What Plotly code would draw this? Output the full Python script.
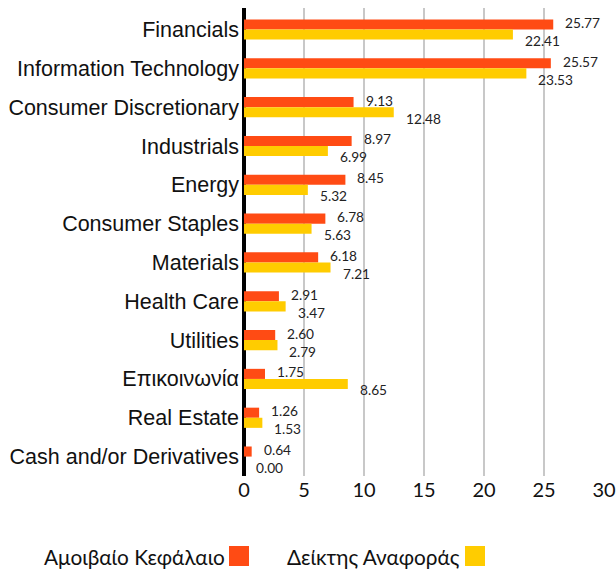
import plotly.graph_objects as go

categories = ["Financials", "Information Technology", "Consumer Discretionary", "Industrials",
              "Energy", "Consumer Staples", "Materials", "Health Care", "Utilities",
              "Επικοινωνία", "Real Estate", "Cash and/or Derivatives"]
fund = [25.77, 25.57, 9.13, 8.97, 8.45, 6.78, 6.18, 2.91, 2.60, 1.75, 1.26, 0.64]
bench = [22.41, 23.53, 12.48, 6.99, 5.32, 5.63, 7.21, 3.47, 2.79, 8.65, 1.53, 0.00]
series_names = ["Αμοιβαίο Κεφάλαιο", "Δείκτης Αναφοράς"]
x_ticks = [0, 5, 10, 15, 20, 25, 30]

RED = "#FF4B14"
YEL = "#FFCC00"

L, T, PW, PH = 244, 8, 360, 468

def px(x):
    return (x - L) / PW

def py(y):
    return (T + PH - y) / PH

fig = go.Figure()
fig.add_trace(go.Bar(y=categories, x=fund, orientation="h", name=series_names[0],
                     marker=dict(color=RED, line=dict(width=0))))
fig.add_trace(go.Bar(y=categories, x=bench, orientation="h", name=series_names[1],
                     marker=dict(color=YEL, line=dict(width=0))))

annos = []
for c, v in zip(categories, fund):
    annos.append(dict(x=v, y=c, xref="x", yref="y", text=f"{v:.2f}", showarrow=False,
                      xanchor="left", yanchor="middle", xshift=10, yshift=7,
                      font=dict(family="Lato, sans-serif", size=13.7, color="#222")))
for c, v in zip(categories, bench):
    annos.append(dict(x=v, y=c, xref="x", yref="y", text=f"{v:.2f}", showarrow=False,
                      xanchor="left", yanchor="middle", xshift=10, yshift=-11,
                      font=dict(family="Lato, sans-serif", size=13.7, color="#222")))

# custom legend: text then square
annos.append(dict(x=px(42), y=py(556), xref="paper", yref="paper", text=series_names[0],
                  showarrow=False, xanchor="left", yanchor="middle",
                  font=dict(family="Lato, sans-serif", size=20.8, color="#111")))
annos.append(dict(x=px(285), y=py(556), xref="paper", yref="paper", text=series_names[1],
                  showarrow=False, xanchor="left", yanchor="middle",
                  font=dict(family="Lato, sans-serif", size=20.8, color="#111")))

shapes = [
    dict(type="rect", xref="paper", yref="paper", x0=px(229), x1=px(249),
         y0=py(566), y1=py(546), fillcolor=RED, line=dict(width=0)),
    dict(type="rect", xref="paper", yref="paper", x0=px(465), x1=px(485),
         y0=py(566), y1=py(546), fillcolor=YEL, line=dict(width=0)),
]

fig.update_layout(
    width=616, height=572,
    margin=dict(l=L, r=616 - L - PW, t=T, b=572 - T - PH, autoexpand=False),
    plot_bgcolor="white", paper_bgcolor="white",
    barmode="group", bargap=0.48, bargroupgap=0,
    showlegend=False,
    annotations=annos, shapes=shapes,
    xaxis=dict(range=[0, 30], tickvals=x_ticks, ticktext=[str(t) for t in x_ticks],
               showgrid=True, gridcolor="#c8c8c8", gridwidth=2,
               zeroline=True, zerolinecolor="black", zerolinewidth=4,
               tickfont=dict(family="Lato, sans-serif", size=20, color="#111"),
               ticks="", showline=False, automargin=False),
    yaxis=dict(autorange="reversed", showgrid=False, ticks="", showline=False,
               tickfont=dict(family="Liberation Sans, Arial, sans-serif", size=21.5, color="#111"),
               ticklabelstandoff=4, automargin=False),
)

fig.write_html("out.html", config={"displayModeBar": False},
               post_script="document.body.style.margin='0';document.body.style.overflow='hidden';")
